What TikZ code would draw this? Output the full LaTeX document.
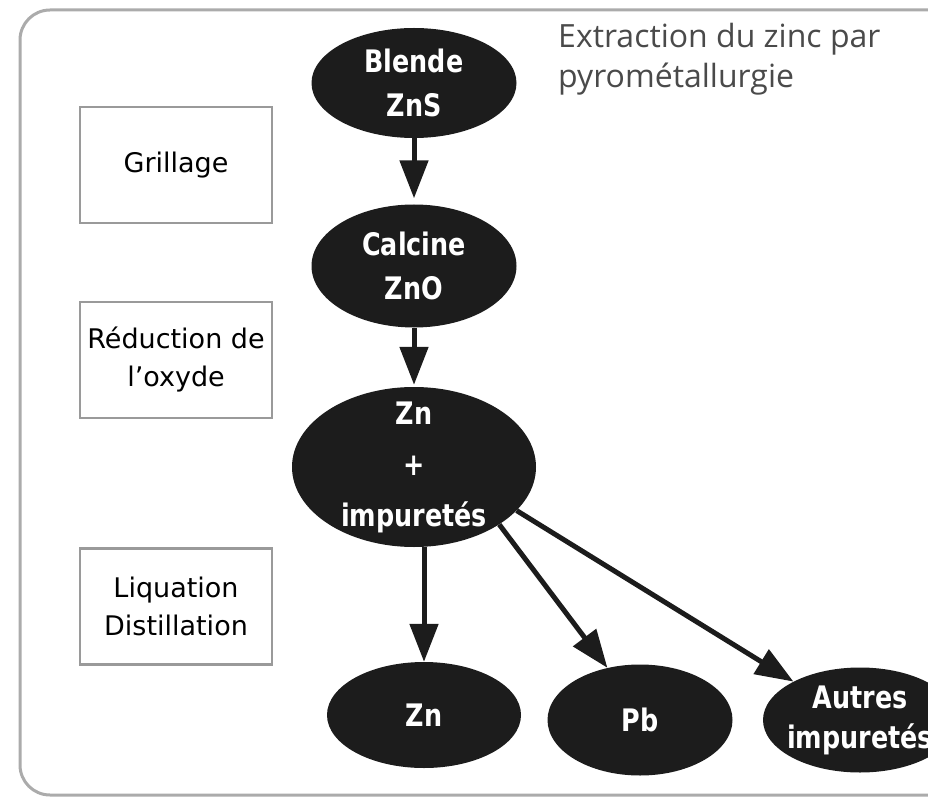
\documentclass[tikz,border=0pt]{standalone}
\usepackage{fontspec}
\setmainfont{DejaVu Sans}
\newfontfamily\blobfont[FakeStretch=0.82]{DejaVu Sans Bold}
\newfontfamily\titlefont{Open Sans}
\usetikzlibrary{shapes.geometric,arrows.meta}
\definecolor{blobfill}{HTML}{1C1C1C}
\definecolor{framegray}{HTML}{ABABAB}
\definecolor{boxgray}{HTML}{9A9A9A}
\definecolor{titlegray}{HTML}{4A4A4A}
\begin{document}
\begin{tikzpicture}[x=1pt,y=-1pt,
  blob/.style={ellipse, fill=blobfill, draw=none, inner sep=0pt},
  blobtext/.style={text=white, font=\blobfont\fontsize{31}{44}\selectfont, align=center, inner sep=0pt},
  stagebox/.style={draw=boxgray, line width=2.5pt, fill=white, minimum width=192pt, minimum height=116pt, inner sep=0pt, font=\fontsize{27}{38}\selectfont, align=center},
  flow/.style={line width=5pt, draw=blobfill, -{Triangle[width=28pt,length=38pt]}},
]
\useasboundingbox (0,0) rectangle (928,799);
\clip (0,0) rectangle (928,799);
\draw[framegray, line width=3pt, rounded corners=30pt] (20,10) rectangle (990,795);

\node[anchor=base west, font=\titlefont\fontsize{32}{40}\selectfont, text=titlegray, align=left, inner sep=0pt] (title) at (558,88) {Extraction du zinc par\\pyrométallurgie};

\node[stagebox] (grillage) at (176,165) {Grillage};
\node[stagebox] (reduction) at (176,360) {Réduction de\\l'oxyde};
\node[stagebox] (liquation) at (176,606.5) {Liquation\\Distillation};

\node[blob, minimum width=205pt, minimum height=110pt, label={[blobtext,name=blendetxt]center:{Blende\\ZnS}}] (blende) at (414,83) {};
\node[blob, minimum width=205pt, minimum height=123pt, label={[blobtext,name=calcinetxt]center:{Calcine\\ZnO}}] (calcine) at (414,266) {};
\node[blob, minimum width=244pt, minimum height=160pt, label={[blobtext,name=bigtxt,font=\blobfont\fontsize{31}{51}\selectfont]center:{Zn\\+\\impuretés}}] (big) at (414,467) {};
\node[blob, minimum width=194pt, minimum height=106pt, label={[blobtext,name=zntxt]center:{Zn}}] (zn) at (424,715) {};
\node[blob, minimum width=185pt, minimum height=111pt, label={[blobtext,name=pbtxt]center:{Pb}}] (pb) at (640,720) {};
\node[blob, minimum width=194pt, minimum height=105pt, label={[blobtext,name=autrestxt,font=\blobfont\fontsize{31}{40}\selectfont]center:{Autres\\impuretés}}] (autres) at (860,720) {};

\draw[flow, shorten >=6pt] (blende) -- (calcine);
\draw[flow, shorten >=2pt] (calcine) -- (big);
\draw[flow] (big.south -| zn.north) -- (zn.north);
\draw[flow] (big.-34) -- (pb.122);
\draw[flow] (big.-23) -- (autres.150);
\end{tikzpicture}
\end{document}
